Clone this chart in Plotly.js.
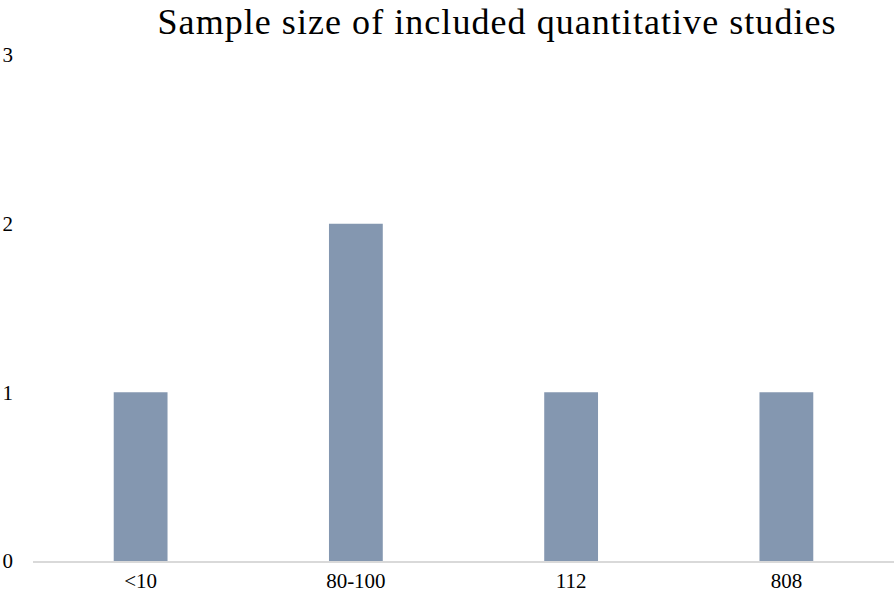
<!DOCTYPE html>
<html>
<head>
<meta charset="utf-8">
<script src="https://cdn.plot.ly/plotly-3.0.1.min.js"></script>
<style>
  body { margin: 0; background: #fff; }
  #myPlot { width: 894px; height: 599px; }
  #myPlot .gtitle { letter-spacing: 1.05px; }
</style>
</head>
<body>
<div id="myPlot"></div>
<script>
// sample size groups and number of studies in each
const categories = ["<10", "80-100", "112", "808"];
const studies = [1, 2, 1, 1];
const yTicks = [0, 1, 2, 3];

const barras = {
    x: categories,
    y: studies,
    type: "bar",
    width: 0.25,
    marker: {color: "#8497b0"},
    hoverinfo: "x+y"
};

const layout = {
    width: 894,
    height: 599,
    margin: {l: 33, r: 0, t: 55, b: 38},
    paper_bgcolor: "#ffffff",
    plot_bgcolor: "#ffffff",
    font: {family: "Liberation Serif, serif", size: 21, color: "#000000"},
    title: {
        text: "Sample size of included quantitative studies",
        font: {size: 36, color: "#000000"},
        x: 0.556,
        xanchor: "center",
        y: 0.964,
        yanchor: "middle"
    },
    xaxis: {
        type: "category",
        showgrid: false,
        showline: true,
        linecolor: "#d9d9d9",
        linewidth: 1.5,
        ticks: "",
        zeroline: false,
        tickfont: {size: 21}
    },
    yaxis: {
        range: [0, 3],
        tickvals: yTicks,
        showgrid: false,
        showline: false,
        zeroline: false,
        ticks: "",
        ticklabelstandoff: 19,
        tickfont: {size: 21}
    },
    showlegend: false,
    bargap: 0.75
};

Plotly.newPlot("myPlot", [barras], layout, {displayModeBar: false});
</script>
</body>
</html>
